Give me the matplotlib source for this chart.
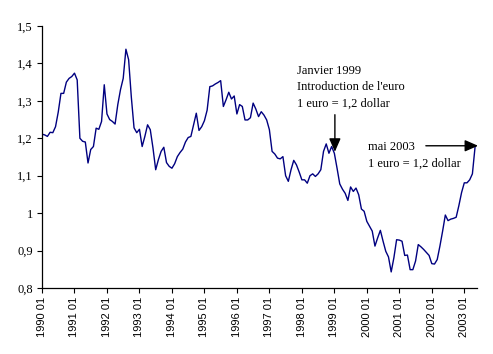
import matplotlib
matplotlib.use("Agg")
import matplotlib.pyplot as plt
import numpy as np

# euro / dollar, monthly, 1990 01 .. 2003 05
y1990 = [1.211, 1.209, 1.205, 1.216, 1.215, 1.231, 1.27, 1.32, 1.32, 1.35, 1.36, 1.365]
y1991 = [1.374, 1.356, 1.20, 1.192, 1.19, 1.134, 1.17, 1.178, 1.227, 1.224, 1.245, 1.343]
y1992 = [1.265, 1.25, 1.245, 1.238, 1.29, 1.33, 1.36, 1.438, 1.41, 1.31, 1.228, 1.215]
y1993 = [1.224, 1.178, 1.205, 1.236, 1.223, 1.174, 1.116, 1.143, 1.165, 1.176, 1.135, 1.125]
y1994 = [1.12, 1.132, 1.151, 1.162, 1.171, 1.19, 1.202, 1.205, 1.236, 1.267, 1.221, 1.231]
y1995 = [1.247, 1.275, 1.338, 1.34, 1.345, 1.349, 1.354, 1.285, 1.303, 1.323, 1.305, 1.313]
y1996 = [1.265, 1.29, 1.285, 1.249, 1.249, 1.255, 1.294, 1.278, 1.258, 1.271, 1.262, 1.249]
y1997 = [1.223, 1.165, 1.158, 1.147, 1.145, 1.151, 1.10, 1.085, 1.116, 1.141, 1.129, 1.11]
y1998 = [1.089, 1.089, 1.08, 1.10, 1.105, 1.098, 1.105, 1.116, 1.165, 1.185, 1.16, 1.178]
y1999 = [1.16, 1.12, 1.078, 1.064, 1.053, 1.034, 1.07, 1.058, 1.067, 1.049, 1.011, 1.005]
y2000 = [0.978, 0.965, 0.952, 0.912, 0.934, 0.954, 0.925, 0.898, 0.883, 0.843, 0.881, 0.929]
y2001 = [0.928, 0.925, 0.887, 0.888, 0.849, 0.849, 0.872, 0.916, 0.91, 0.903, 0.895, 0.887]
y2002 = [0.865, 0.864, 0.876, 0.912, 0.952, 0.995, 0.98, 0.984, 0.986, 0.989, 1.02, 1.055]
y2003 = [1.081, 1.081, 1.089, 1.105, 1.178]

rate = y1990 + y1991 + y1992 + y1993 + y1994 + y1995 + y1996 + y1997 + \
    y1998 + y1999 + y2000 + y2001 + y2002 + y2003
years = list(range(1990, 2004))
xlabels = ["%d 01" % y for y in years]
ylabels = ["0,8", "0,9", "1", "1,1", "1,2", "1,3", "1,4", "1,5"]
yticks = [0.8, 0.9, 1.0, 1.1, 1.2, 1.3, 1.4, 1.5]

serif = "Liberation Serif"
sans = "Liberation Sans"

fig = plt.figure(figsize=(4.93, 3.54), dpi=100)
ax = fig.add_axes([42 / 493, 1 - 288 / 354, 435 / 493, 262 / 354])

x = np.arange(len(rate))
ax.plot(x, rate, color="#000080", lw=1.0)

ax.set_xlim(0, 160.7)
ax.set_ylim(0.8, 1.5)
ax.set_xticks(np.arange(0, len(rate), 12))
ax.set_xticklabels(xlabels, rotation=90, family=sans, fontsize=8)
ax.set_yticks(yticks)
ax.set_yticklabels(ylabels, family=serif, fontsize=9)
ax.tick_params(direction="out", length=3.5, width=0.8, pad=3, colors="black")

for s in ["top", "right"]:
    ax.spines[s].set_visible(False)
for s in ["left", "bottom"]:
    ax.spines[s].set_linewidth(0.9)

# annotations
ax.text(94.3, 1.397, "Janvier 1999\nIntroduction de l'euro\n1 euro = 1,2 dollar",
        family=serif, fontsize=9, va="top", ha="left", linespacing=1.5)
ax.annotate("", xy=(108.2, 1.164), xytext=(108.2, 1.263),
            arrowprops=dict(arrowstyle="-|>,head_length=0.8,head_width=0.35",
                            color="black", lw=1.0, shrinkA=0, shrinkB=0))
ax.text(120.3, 1.193, "mai 2003\n1 euro = 1,2 dollar",
        family=serif, fontsize=9, va="top", ha="left", linespacing=1.5)
ax.annotate("", xy=(161.1, 1.18), xytext=(141.8, 1.18), annotation_clip=False,
            arrowprops=dict(arrowstyle="-|>,head_length=0.8,head_width=0.35",
                            color="black", lw=1.0, shrinkA=0, shrinkB=0))

fig.savefig("out.png", dpi=100)
